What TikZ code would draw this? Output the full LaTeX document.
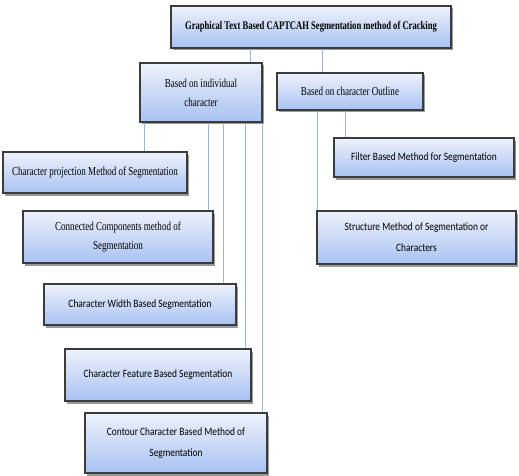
\documentclass[tikz,border=0pt]{standalone}
\usepackage{fontspec}
\usepackage{xcolor}
\usepackage{tikz}
\usetikzlibrary{positioning,shadows}
\newfontfamily\narrowserif[FakeStretch=0.74]{Liberation Serif}
\newfontfamily\narrowsans[FakeStretch=0.84]{Carlito}
\definecolor{boxtop}{HTML}{EEF2FC}
\definecolor{boxbot}{HTML}{A8C2F2}
\definecolor{frame}{HTML}{3C3C3C}
\definecolor{link}{HTML}{9FB6D6}

\begin{document}
\begin{tikzpicture}[
  x=1pt, y=-1pt,
  box/.style={draw=frame, line width=1.2pt, top color=boxtop, bottom color=boxbot, align=center, inner sep=2pt,
    drop shadow={shadow xshift=2pt, shadow yshift=-2.5pt, fill=black!50, opacity=0.8}},
  serifbox/.style={box, font=\narrowserif\fontsize{12.2}{19}\selectfont},
  sansbox/.style={box, font=\narrowsans\fontsize{11.2}{21}\selectfont},
  conn/.style={draw=link, line width=1pt}
]
\useasboundingbox (0,0) rectangle (519,476);
\node[serifbox, font=\narrowserif\bfseries\fontsize{11.6}{19}\selectfont, minimum width=280pt, minimum height=42pt] (title) at (311,27) {Graphical Text Based CAPTCAH Segmentation method of Cracking};
\node[serifbox, minimum width=122pt, minimum height=59pt] (indiv) at (201,92.5) {Based on individual\\character};
\node[serifbox, minimum width=146pt, minimum height=37pt] (outline) at (350,91.5) {Based on character Outline};
\node[serifbox, minimum width=184pt, minimum height=41pt] (proj) at (95,172.5) {Character projection Method of Segmentation};
\node[serifbox, minimum width=190pt, minimum height=52pt] (comp) at (118,237) {Connected Components method of\\Segmentation};
\node[sansbox, minimum width=192pt, minimum height=41pt] (width) at (140,304.5) {Character Width Based Segmentation};
\node[sansbox, minimum width=186pt, minimum height=52pt] (feat) at (158,375) {Character Feature Based Segmentation};
\node[sansbox, minimum width=182pt, minimum height=60pt] (contour) at (176,443) {Contour Character Based Method of\\Segmentation};
\node[sansbox, minimum width=180pt, minimum height=39pt] (filter) at (424,157.5) {Filter Based Method for Segmentation};
\node[sansbox, minimum width=199pt, minimum height=53pt] (struct) at (416.5,237.5) {Structure Method of Segmentation or\\Characters};
% links from the top
\draw[conn] ([xshift=-12pt]indiv.north east) -- ([xshift=-12pt]indiv.north east |- title.south);
\draw[conn] ([xshift=46pt]outline.north west) -- ([xshift=46pt]outline.north west |- title.south);
% individual character branch
\draw[conn] ([xshift=5pt]indiv.south west) -- ([xshift=5pt]indiv.south west |- proj.north);
\draw[conn] ([xshift=-5pt]comp.north east) -- ([xshift=-5pt]comp.north east |- indiv.south);
\draw[conn] ([xshift=-13pt]width.north east) -- ([xshift=-13pt]width.north east |- indiv.south);
\draw[conn] ([xshift=-6pt]feat.north east) -- ([xshift=-6pt]feat.north east |- indiv.south);
\draw[conn] ([xshift=-5pt]contour.north east) -- ([xshift=-5pt]contour.north east |- indiv.south);
% outline branch
\draw[conn] ([xshift=12pt]filter.north west) -- ([xshift=12pt]filter.north west |- outline.south);
\draw[conn] ([xshift=1pt]struct.north west) -- ([xshift=1pt]struct.north west |- outline.south);
\end{tikzpicture}
\end{document}
